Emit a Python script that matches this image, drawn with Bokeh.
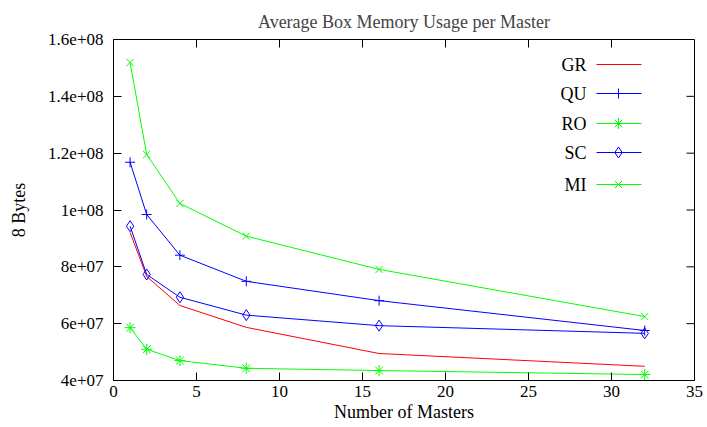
from bokeh.plotting import figure
from bokeh.models import FixedTicker, Range1d
from bokeh.embed import file_html
from bokeh.resources import INLINE

# Number of masters on the x axis
masters = [1, 2, 4, 8, 16, 32]

# Average box memory usage (8-byte units) for each scheme
gr = [9.21e7, 7.66e7, 6.64e7, 5.87e7, 4.95e7, 4.50e7]
qu = [1.168e8, 9.84e7, 8.41e7, 7.49e7, 6.81e7, 5.76e7]
ro = [5.86e7, 5.10e7, 4.70e7, 4.43e7, 4.35e7, 4.21e7]
sc = [9.43e7, 7.73e7, 6.93e7, 6.30e7, 5.93e7, 5.66e7]
mi = [1.519e8, 1.195e8, 1.023e8, 9.08e7, 7.91e7, 6.25e7]

series_names = ["GR", "QU", "RO", "SC", "MI"]

x_ticks = [0, 5, 10, 15, 20, 25, 30, 35]
y_ticks = [4e7, 6e7, 8e7, 1e8, 1.2e8, 1.4e8, 1.6e8]
y_tick_labels = ["4e+07", "6e+07", "8e+07", "1e+08", "1.2e+08", "1.4e+08", "1.6e+08"]

FONT = "Liberation Serif"
FS = "18px"
TICK_FS = "17px"

X0, X1 = 0, 35
Y0, Y1 = 4e7, 1.6e8
W, H = 707, 427
BL, BR, BT, BB = 113, 13, 39, 47
TICK_LEN = 8

p = figure(width=W, height=H, x_range=Range1d(X0, X1), y_range=Range1d(Y0, Y1),
           output_backend="svg", toolbar_location=None,
           min_border_left=BL, min_border_right=BR,
           min_border_top=BT, min_border_bottom=BB,
           x_axis_label="Number of Masters", y_axis_label="8 Bytes")
p.grid.visible = False
p.outline_line_color = "black"
p.outline_line_width = 1
p.background_fill_color = "white"
p.border_fill_color = "white"

p.title.text = "Average Box Memory Usage per Master"
p.title.align = "center"
p.title.text_font = FONT
p.title.text_font_size = FS
p.title.text_font_style = "normal"
p.title.standoff = 16


def style_axis(ax, ticks):
    ax.ticker = FixedTicker(ticks=ticks)
    ax.major_tick_in = TICK_LEN
    ax.major_tick_out = 0
    ax.minor_tick_in = 0
    ax.minor_tick_out = 0
    ax.major_tick_line_color = "black"
    ax.axis_line_color = None
    ax.major_label_text_font = FONT
    ax.major_label_text_font_size = TICK_FS
    ax.major_label_text_color = "black"
    ax.axis_label_text_font = FONT
    ax.axis_label_text_font_size = FS
    ax.axis_label_text_font_style = "normal"
    ax.axis_label_text_color = "black"


style_axis(p.xaxis[0], x_ticks)
p.xaxis[0].major_label_standoff = 5
p.xaxis[0].axis_label_standoff = 2

style_axis(p.yaxis[0], y_ticks)
p.yaxis[0].major_label_overrides = {v: s for v, s in zip(y_ticks, y_tick_labels)}
p.yaxis[0].major_label_standoff = 10
p.yaxis[0].axis_label_standoff = 16

frame_w = W - BL - BR
frame_h = H - BT - BB


def to_x(px):
    return X0 + (px - BL) / frame_w * (X1 - X0)


def to_y(py):
    return Y1 - (py - BT) / frame_h * (Y1 - Y0)


# mirrored tick marks on the top and right borders, pointing inward
top_end = to_y(BT + TICK_LEN)
p.segment(x0=x_ticks, y0=[Y1] * len(x_ticks), x1=x_ticks, y1=[top_end] * len(x_ticks),
          line_color="black", line_width=1)
right_end = to_x(W - BR - TICK_LEN)
p.segment(x0=[X1] * len(y_ticks), y0=y_ticks, x1=[right_end] * len(y_ticks), y1=y_ticks,
          line_color="black", line_width=1)

RED, BLUE, GREEN = "#ff0000", "#0000ff", "#00ff00"
styles = {
    "GR": dict(ys=gr, color=RED, marker=None, size=0),
    "QU": dict(ys=qu, color=BLUE, marker="cross", size=10),
    "RO": dict(ys=ro, color=GREEN, marker="asterisk", size=11),
    "SC": dict(ys=sc, color=BLUE, marker="diamond", size=11),
    "MI": dict(ys=mi, color=GREEN, marker="x", size=10),
}

for name in series_names:
    st = styles[name]
    p.line(masters, st["ys"], line_color=st["color"], line_width=1)
    if st["marker"]:
        p.scatter(masters, st["ys"], marker=st["marker"], size=st["size"],
                  line_color=st["color"], fill_color=None, line_width=1)

# key placed inside the frame, label on the left and sample on the right
key_rows_px = [64, 93, 123, 152, 184]
key_text_px = 586
key_line_px = (596, 641)
key_mark_px = 618

for name, row in zip(series_names, key_rows_px):
    st = styles[name]
    ky = to_y(row)
    p.text([to_x(key_text_px)], [ky], text=[name], text_align="right",
           text_baseline="middle", text_font=FONT, text_font_size=FS,
           text_color="black")
    p.line([to_x(key_line_px[0]), to_x(key_line_px[1])], [ky, ky],
           line_color=st["color"], line_width=1)
    if st["marker"]:
        p.scatter([to_x(key_mark_px)], [ky], marker=st["marker"], size=st["size"],
                  line_color=st["color"], fill_color=None, line_width=1)

open("out.html", "w").write(file_html(p, INLINE))
